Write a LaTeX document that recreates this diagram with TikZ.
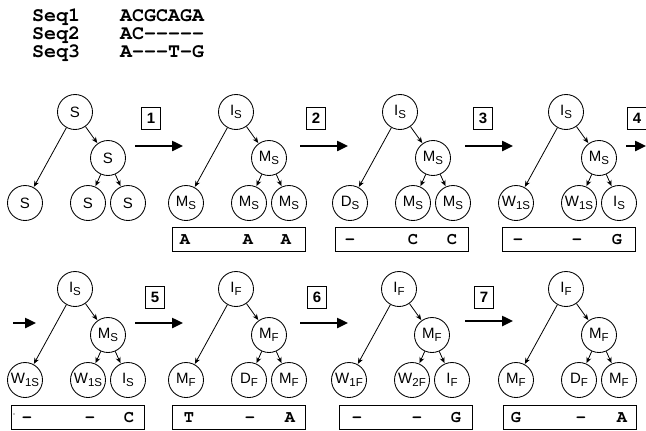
\documentclass[tikz,border=0pt]{standalone}
\usepackage{fontspec}
\setmainfont{Liberation Sans}
\newfontfamily\seqfont{texgyrecursor}[Extension=.otf, UprightFont=*-regular, BoldFont=*-bold]
\usetikzlibrary{arrows.meta}
\newcommand\lsub[1]{\raisebox{-0.35ex}{\fontsize{11.5}{11.5}\selectfont #1}}
% one tree: #1 prefix, #2/#3 root position, #4 root, #5 middle, #6-#8 leaves
\newcommand\gtree[8]{%
  \begin{scope}[shift={(#2,#3)}]
    \node[st] (#1r) at (0,0) {#4};
    \node[st] (#1m) at (33,46) {#5};
    \node[st] (#1a) at (-50,91) {#6};
    \node[st] (#1b) at (13,91) {#7};
    \node[st] (#1c) at (53,91) {#8};
  \end{scope}
  \draw[edge] (#1r) -- (#1a);
  \draw[edge] (#1r) -- (#1m);
  \draw[edge] (#1m) -- (#1b);
  \draw[edge] (#1m) -- (#1c);
}
% one column box: #1 prefix, #2/#3 centre, #4-#9 letter x and letter
\newcommand\colrow[9]{%
  \node[colbox] (#1) at (#2,#3) {};
  \node[res] (#1x) at (#4,#3+5) {#5};
  \node[res] (#1y) at (#6,#3+5) {#7};
  \node[res] (#1z) at (#8,#3+5) {#9};
}
\begin{document}
\begin{tikzpicture}[x=1pt,y=-1pt,
  st/.style={circle, draw, line width=0.85pt, minimum size=35pt, inner sep=0pt,
    font=\fontsize{15}{15}\selectfont},
  edge/.style={line width=0.8pt, -{Stealth[length=6pt,width=5pt]}, shorten >=0.5pt},
  bigarrow/.style={line width=2.4pt, -{Triangle[length=11pt,width=10pt]}},
  stepno/.style={draw, line width=0.85pt, minimum width=19pt, minimum height=22pt,
    inner sep=0pt, font=\fontsize{15}{15}\selectfont\bfseries},
  colbox/.style={draw, line width=0.85pt, minimum width=133pt, minimum height=24pt,
    inner sep=0pt},
  res/.style={anchor=base, inner sep=0pt, text height=10pt, text depth=0pt,
    font=\seqfont\bfseries\fontsize{17}{17}\selectfont},
  seqtxt/.style={anchor=base west, inner sep=0pt, text height=12pt, text depth=0pt,
    font=\seqfont\bfseries\fontsize{20}{20}\selectfont}]
\useasboundingbox (0,0) rectangle (646,431);

% the alignment
\node[seqtxt] (s1) at (32,21) {Seq1};
\node[seqtxt] (a1) at (120,21) {ACGCAGA};
\node[seqtxt] (s2) at (32,39) {Seq2};
\node[seqtxt] (a2) at (120,39) {AC-----};
\node[seqtxt] (s3) at (32,57) {Seq3};
\node[seqtxt] (a3) at (120,57) {A---T-G};

% first row of trees
\gtree{t1}{75}{112}{S}{S}{S}{S}{S}
\gtree{t2}{236}{112}{I\lsub{S}}{M\lsub{S}}{M\lsub{S}}{M\lsub{S}}{M\lsub{S}}
\gtree{t3}{400}{112}{I\lsub{S}}{M\lsub{S}}{D\lsub{S}}{M\lsub{S}}{M\lsub{S}}
\gtree{t4}{566}{112}{I\lsub{S}}{M\lsub{S}}{W\lsub{1S}}{W\lsub{1S}}{I\lsub{S}}

\colrow{b2}{238.5}{239}{185}{A}{248}{A}{286}{A}
\colrow{b3}{401.5}{239}{350}{-}{413}{C}{452}{C}
\colrow{b4}{568.5}{239}{518}{-}{577}{-}{617}{G}

% steps of the first row
\node[stepno] (n1) at (151,118) {1};
\node[stepno] (n2) at (316,118) {2};
\node[stepno] (n3) at (483,118) {3};
\node[stepno] (n4) at (637,118) {4};
\coordinate (p1a) at (135,146); \coordinate (p1b) at (183,146);
\coordinate (p2a) at (300,146); \coordinate (p2b) at (348,146);
\coordinate (p3a) at (465,146); \coordinate (p3b) at (513,146);
\coordinate (p4a) at (626,146); \coordinate (p4b) at (646,146);
\draw[bigarrow] (p1a) -- (p1b);
\draw[bigarrow] (p2a) -- (p2b);
\draw[bigarrow] (p3a) -- (p3b);
\draw[bigarrow] (p4a) -- (p4b);

% second row of trees
\gtree{t5}{75}{289}{I\lsub{S}}{M\lsub{S}}{W\lsub{1S}}{W\lsub{1S}}{I\lsub{S}}
\gtree{t6}{236}{289}{I\lsub{F}}{M\lsub{F}}{M\lsub{F}}{D\lsub{F}}{M\lsub{F}}
\gtree{t7}{399}{289}{I\lsub{F}}{M\lsub{F}}{W\lsub{1F}}{W\lsub{2F}}{I\lsub{F}}
\gtree{t8}{566}{289}{I\lsub{F}}{M\lsub{F}}{M\lsub{F}}{D\lsub{F}}{M\lsub{F}}

\colrow{b5}{77.5}{417}{27}{-}{90}{-}{129}{C}
\colrow{b6}{238.5}{417}{189}{T}{250}{-}{290}{A}
\colrow{b7}{405.5}{417}{357}{-}{417}{-}{456}{G}
\colrow{b8}{570}{417}{516}{G}{581}{-}{622}{A}
\fill (14,414) circle (0.6);

% steps of the second row
\node[stepno] (n5) at (155,297) {5};
\node[stepno] (n6) at (317,297) {6};
\node[stepno] (n7) at (484,297) {7};
\coordinate (p0a) at (13,323); \coordinate (p0b) at (36,323);
\coordinate (p5a) at (135,323); \coordinate (p5b) at (183,323);
\coordinate (p6a) at (300,323); \coordinate (p6b) at (348,323);
\coordinate (p7a) at (465,321); \coordinate (p7b) at (513,321);
\draw[bigarrow] (p0a) -- (p0b);
\draw[bigarrow] (p5a) -- (p5b);
\draw[bigarrow] (p6a) -- (p6b);
\draw[bigarrow] (p7a) -- (p7b);
\end{tikzpicture}
\end{document}
